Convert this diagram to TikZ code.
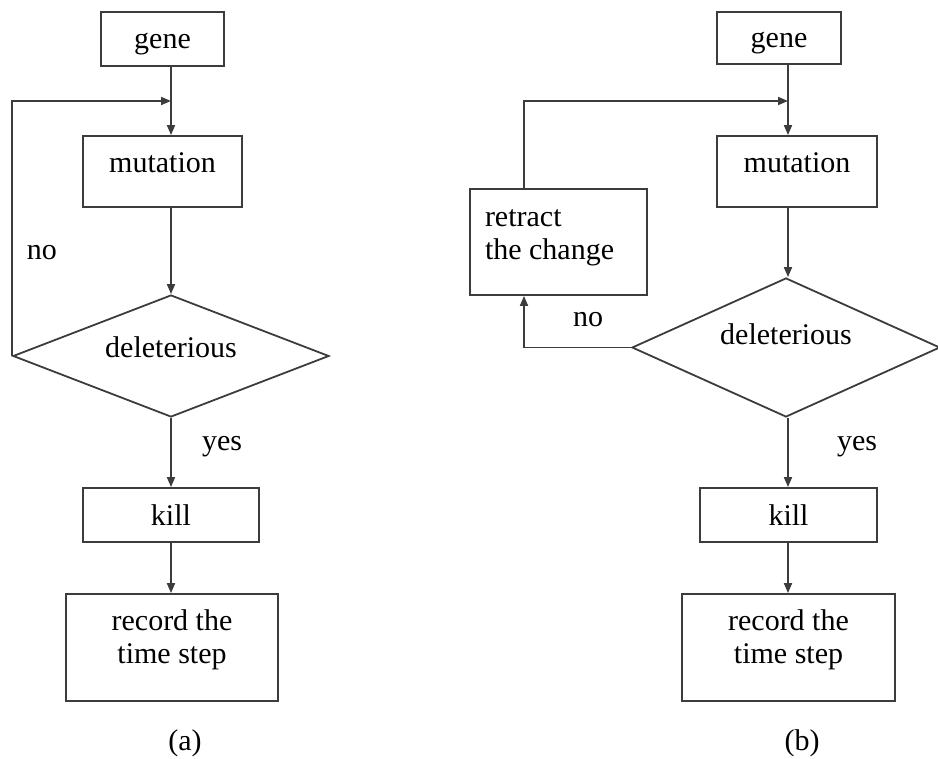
\documentclass[tikz,border=0pt]{standalone}
\usepackage{fontspec}
\setmainfont{Liberation Serif}
\usepackage{tikz}
\usetikzlibrary{shapes.geometric,arrows.meta}
\definecolor{linegray}{RGB}{60,60,60}

\tikzset{
  box/.style={draw=linegray, line width=1.8pt, rectangle, inner sep=0pt},
  decision/.style={draw=linegray, line width=1.8pt, diamond, aspect=2.6, inner sep=0pt},
  flow/.style={->, draw=linegray, line width=1.8pt},
}

\begin{document}
\begin{tikzpicture}[x=1pt, y=-1pt, >={Triangle[length=10pt,width=8pt]},
  font=\fontsize{30}{33}\selectfont]
\useasboundingbox (0,0) rectangle (938,759);

% (a) nodes
\node[box, minimum width=123pt, minimum height=54pt, text height=26pt] (genea) at (162.5,39) {gene};
\node[box, minimum width=159pt, minimum height=71pt, text depth=17pt] (muta) at (162.5,171.5) {mutation};
\node[decision, minimum width=316pt, minimum height=122pt, text depth=18pt] (dela) at (171,356) {deleterious};
\node[box, minimum width=176pt, minimum height=54pt] (killa) at (171,515) {kill};
\node[box, minimum width=212pt, minimum height=107pt, align=center, text depth=22pt] (reca) at (172,647.5) {record the\\time step};
\coordinate (axa) at (171,0);

% (b) nodes
\node[box, minimum width=124pt, minimum height=52pt, text height=26pt] (geneb) at (779,38) {gene};
\node[box, minimum width=160pt, minimum height=71pt, text depth=17pt] (mutb) at (797,171.5) {mutation};
\node[decision, minimum width=308pt, minimum height=139pt, text depth=26pt] (delb) at (786,347.5) {deleterious};
\node[box, minimum width=177pt, minimum height=106pt, inner xsep=15pt, text width=147pt, align=flush left, text depth=48pt] (retb) at (558.5,242) {retract\\the change};
\node[box, minimum width=177pt, minimum height=54pt] (killb) at (788.5,515) {kill};
\node[box, minimum width=213pt, minimum height=107pt, align=center, text depth=22pt] (recb) at (788.5,647.5) {record the\\time step};
\coordinate (axb) at (788,0);
\coordinate (loopb) at (524,0);

% labels
\node (noa) at (42,253) {no};
\node (yesa) at (222,447) {yes};
\node (capa) at (185,743) {(a)};
\node (nob) at (588,320) {no};
\node (yesb) at (857,447) {yes};
\node (capb) at (802,743) {(b)};

% Arrows (a)
\draw[flow] (genea.south -| axa) -- (muta.north -| axa);
\draw[flow] (dela.west) -- (dela.west |- 0,101) -- (axa |- 0,101);
\draw[flow] (muta.south -| axa) -- (dela.north);
\draw[flow] (dela.south) -- (killa.north -| axa);
\draw[flow] (killa.south -| axa) -- (reca.north -| axa);

% Arrows (b)
\draw[flow] (geneb.south -| axb) -- (mutb.north -| axb);
\draw[flow] (retb.north -| loopb) -- (loopb |- 0,101) -- (axb |- 0,101);
\draw[flow] (mutb.south -| axb) -- (delb.north -| axb);
\draw[flow] (delb.west) -- (delb.west -| loopb) -- (retb.south -| loopb);
\draw[flow] (delb.south -| axb) -- (killb.north -| axb);
\draw[flow] (killb.south -| axb) -- (recb.north -| axb);

\end{tikzpicture}
\end{document}
